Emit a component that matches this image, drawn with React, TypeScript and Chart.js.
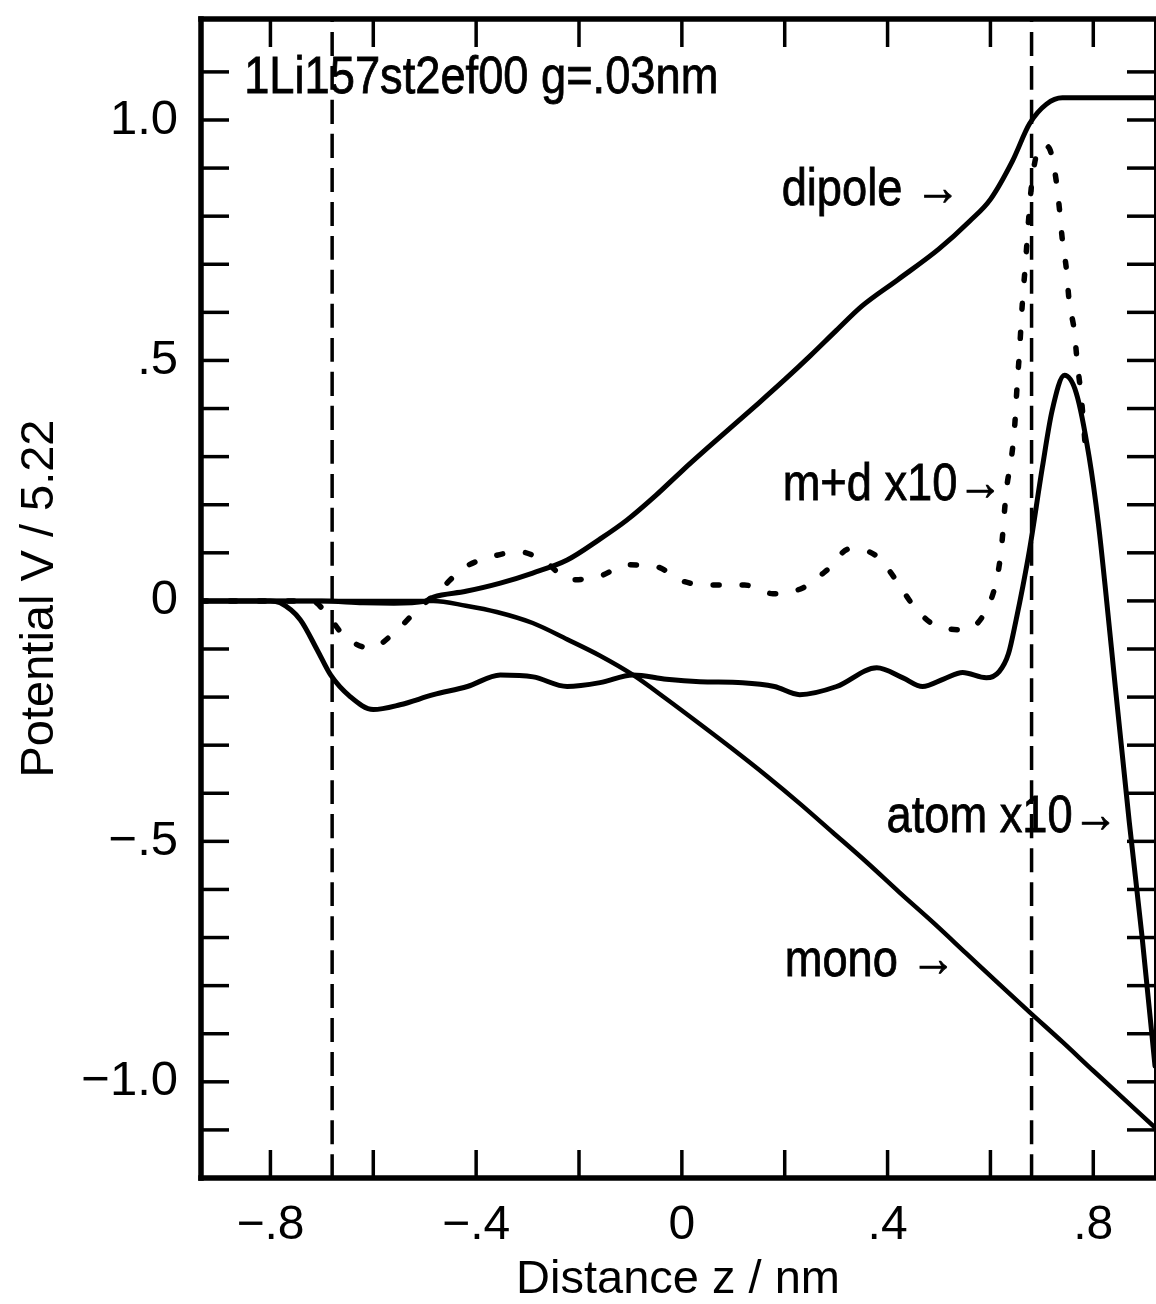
import React, { useEffect, useRef } from 'react';
import { Chart, registerables } from 'chart.js';

Chart.register(...registerables);

const FONT = '"Liberation Sans", Arial, Helvetica, sans-serif';

// ---- data (z in nm, V / 5.22) ----
const DIPOLE_Z = [-0.935, -0.7, -0.62, -0.56, -0.5, -0.483, -0.42, -0.353, -0.29, -0.223, -0.16, -0.107, -0.05, 0, 0.05, 0.1, 0.15, 0.2, 0.25, 0.3, 0.35, 0.42, 0.5, 0.56, 0.6, 0.643, 0.676, 0.709, 0.74, 0.77, 0.92];
const DIPOLE_V = [0, 0, -0.004, -0.005, -0.001, 0.008, 0.02, 0.037, 0.058, 0.085, 0.128, 0.168, 0.22, 0.27, 0.318, 0.365, 0.412, 0.46, 0.51, 0.562, 0.613, 0.668, 0.732, 0.79, 0.835, 0.915, 0.992, 1.033, 1.046, 1.046, 1.046];

const MONO_Z = [-0.935, -0.5, -0.483, -0.42, -0.36, -0.29, -0.223, -0.159, -0.095, -0.03, 0.035, 0.1, 0.165, 0.23, 0.293, 0.36, 0.423, 0.49, 0.553, 0.615, 0.676, 0.74, 0.8, 0.86, 0.92];
const MONO_V = [0, 0, 0, -0.01, -0.023, -0.046, -0.08, -0.114, -0.154, -0.204, -0.256, -0.309, -0.364, -0.422, -0.481, -0.544, -0.606, -0.67, -0.733, -0.795, -0.855, -0.917, -0.977, -1.036, -1.095];

const ATOM_Z = [-0.935, -0.8, -0.781, -0.742, -0.709, -0.683, -0.645, -0.6, -0.548, -0.483, -0.417, -0.353, -0.289, -0.223, -0.159, -0.095, -0.03, 0.035, 0.118, 0.18, 0.229, 0.301, 0.379, 0.43, 0.468, 0.51, 0.546, 0.592, 0.617, 0.635, 0.65, 0.663, 0.676, 0.701, 0.72, 0.744, 0.767, 0.792, 0.81, 0.826, 0.842, 0.87, 0.895, 0.92];
const ATOM_V = [0, 0, -0.004, -0.039, -0.102, -0.154, -0.199, -0.226, -0.216, -0.195, -0.178, -0.154, -0.158, -0.178, -0.17, -0.154, -0.163, -0.168, -0.17, -0.178, -0.195, -0.178, -0.139, -0.16, -0.178, -0.162, -0.149, -0.16, -0.147, -0.11, -0.039, 0.03, 0.106, 0.278, 0.396, 0.469, 0.432, 0.299, 0.16, 0.0, -0.17, -0.46, -0.7, -0.967];

const MD_Z = [-0.935, -0.72, -0.693, -0.658, -0.606, -0.557, -0.515, -0.47, -0.425, -0.373, -0.315, -0.266, -0.217, -0.163, -0.105, -0.049, 0.002, 0.06, 0.122, 0.177, 0.235, 0.282, 0.326, 0.379, 0.416, 0.449, 0.491, 0.55, 0.592, 0.612, 0.621, 0.631, 0.641, 0.647, 0.652, 0.656, 0.662, 0.668, 0.674, 0.68, 0.69, 0.703, 0.715, 0.728, 0.734, 0.74, 0.748, 0.753, 0.763, 0.769, 0.777, 0.786];
const MD_V = [0, 0, -0.023, -0.071, -0.098, -0.064, -0.019, 0.023, 0.068, 0.091, 0.102, 0.081, 0.044, 0.05, 0.075, 0.071, 0.041, 0.033, 0.033, 0.015, 0.027, 0.064, 0.108, 0.093, 0.044, -0.008, -0.05, -0.06, -0.019, 0.044, 0.106, 0.23, 0.299, 0.361, 0.45, 0.51, 0.618, 0.7, 0.79, 0.865, 0.93, 0.948, 0.94, 0.873, 0.817, 0.749, 0.687, 0.624, 0.562, 0.494, 0.42, 0.299];

const BOUNDARY_Z = [-0.68, 0.68];
const BOUNDARY_V = [-1.2, 1.21];

// ---- axes ----
const X_MIN = -0.935;
const X_MAX = 0.92;
const Y_MIN = -1.2;
const Y_MAX = 1.21;
const X_TICK_VALUES = [-0.8, -0.6, -0.4, -0.2, 0, 0.2, 0.4, 0.6, 0.8];
const X_LABEL_VALUES = [-0.8, -0.4, 0, 0.4, 0.8];
const X_LABEL_TEXT = ['\u2212.8', '\u2212.4', '0', '.4', '.8'];
const Y_TICK_VALUES = [-1.1, -1.0, -0.9, -0.8, -0.7, -0.6, -0.5, -0.4, -0.3, -0.2, -0.1, 0, 0.1, 0.2, 0.3, 0.4, 0.5, 0.6, 0.7, 0.8, 0.9, 1.0, 1.1];
const Y_LABEL_VALUES = [-1, -0.5, 0, 0.5, 1];
const Y_LABEL_TEXT = ['\u22121.0', '\u2212.5', '0', '.5', '1.0'];
const X_TITLE = 'Distance z / nm';
const Y_TITLE = 'Potential V / 5.22';

// ---- annotations ----
const NOTE_TEXT = ['1Li157st2ef00 g=.03nm', 'dipole \u2192', 'm+d x10\u2192', 'atom x10\u2192', 'mono \u2192'];
const NOTE_Z = [-0.851, 0.194, 0.196, 0.398, 0.2];
const NOTE_V = [1.056, 0.824, 0.21, -0.481, -0.78];

const pts = (xs: number[], ys: number[]) => xs.map((x, i) => ({ x, y: ys[i] }));
const labelFor = (vals: number[], texts: string[], v: number) => {
  const i = vals.findIndex((u) => Math.abs(u - v) < 1e-6);
  return i >= 0 ? texts[i] : '';
};

const framePlugin = {
  id: 'framePlugin',
  afterDatasetsDraw(chart: any) {
    const { ctx, chartArea: a, scales } = chart;
    const TL = 28;
    ctx.save();
    ctx.strokeStyle = '#000';
    ctx.lineCap = 'butt';
    ctx.lineWidth = 3.5;
    const seg = (x1: number, y1: number, x2: number, y2: number) => {
      ctx.beginPath();
      ctx.moveTo(x1, y1);
      ctx.lineTo(x2, y2);
      ctx.stroke();
    };
    X_TICK_VALUES.forEach((v) => {
      const px = scales.x.getPixelForValue(v);
      seg(px, a.bottom, px, a.bottom - TL);
      seg(px, a.top, px, a.top + TL);
    });
    Y_TICK_VALUES.forEach((v) => {
      const py = scales.y.getPixelForValue(v);
      seg(a.left, py, a.left + TL, py);
      seg(a.right, py, a.right - TL, py);
    });
    ctx.lineCap = 'square';
    ctx.lineWidth = 5.5;
    seg(a.left, a.top, a.left, a.bottom);
    seg(a.left, a.bottom, a.right, a.bottom);
    seg(a.left, a.top, a.right, a.top);
    ctx.lineWidth = 2;
    seg(a.right, a.top, a.right, a.bottom);

    ctx.fillStyle = '#000';
    ctx.strokeStyle = '#000';
    ctx.lineWidth = 0.8;
    ctx.font = '52px ' + FONT;
    ctx.textAlign = 'left';
    ctx.textBaseline = 'alphabetic';
    NOTE_TEXT.forEach((t, i) => {
      const px = scales.x.getPixelForValue(NOTE_Z[i]);
      const py = scales.y.getPixelForValue(NOTE_V[i]);
      ctx.save();
      ctx.translate(px, py);
      ctx.scale(0.87, 1);
      ctx.fillText(t, 0, 0);
      ctx.strokeText(t, 0, 0);
      ctx.restore();
    });
    ctx.restore();
  },
};

export default function App() {
  const ref = useRef<HTMLCanvasElement | null>(null);

  useEffect(() => {
    if (!ref.current) return;
    const solid = (data: any, w: number) => ({
      data,
      borderColor: '#000',
      borderWidth: w,
      pointRadius: 0,
      fill: false,
      cubicInterpolationMode: 'monotone',
      borderCapStyle: 'round',
      borderJoinStyle: 'round',
    });
    const chart = new Chart(ref.current, {
      type: 'line',
      data: {
        datasets: [
          { ...solid(pts([BOUNDARY_Z[0], BOUNDARY_Z[0]], BOUNDARY_V), 3.5), borderDash: [24, 10], borderCapStyle: 'butt', label: 'boundary L' },
          { ...solid(pts([BOUNDARY_Z[1], BOUNDARY_Z[1]], BOUNDARY_V), 3.5), borderDash: [24, 10], borderCapStyle: 'butt', label: 'boundary R' },
          { ...solid(pts(MD_Z, MD_V), 5.5), borderDash: [6, 23], label: 'm+d x10' },
          { ...solid(pts(MONO_Z, MONO_V), 4.5), label: 'mono' },
          { ...solid(pts(DIPOLE_Z, DIPOLE_V), 5), label: 'dipole' },
          { ...solid(pts(ATOM_Z, ATOM_V), 5), label: 'atom x10' },
        ] as any,
      },
      options: {
        responsive: false,
        animation: false,
        parsing: false as any,
        layout: { padding: { top: 19, right: 1, left: 0, bottom: 0 } },
        plugins: { legend: { display: false }, tooltip: { enabled: false } },
        scales: {
          x: {
            type: 'linear',
            min: X_MIN,
            max: X_MAX,
            afterBuildTicks: (s: any) => {
              s.ticks = X_TICK_VALUES.map((value) => ({ value }));
            },
            afterFit: (s: any) => {
              s.height = 126;
              s.paddingLeft = 0;
              s.paddingRight = 0;
            },
            grid: { display: false, drawTicks: false },
            border: { display: false },
            ticks: {
              autoSkip: false,
              maxRotation: 0,
              color: '#000',
              padding: 24,
              font: { family: FONT, size: 48, lineHeight: 1 },
              callback: (v: any) => labelFor(X_LABEL_VALUES, X_LABEL_TEXT, Number(v)),
            },
            title: {
              display: true,
              text: X_TITLE,
              color: '#000',
              font: { family: FONT, size: 47, lineHeight: 1 },
              padding: { top: 0, bottom: 0 },
            },
          },
          y: {
            type: 'linear',
            min: Y_MIN,
            max: Y_MAX,
            afterBuildTicks: (s: any) => {
              s.ticks = Y_TICK_VALUES.map((value) => ({ value }));
            },
            afterFit: (s: any) => {
              s.width = 201;
              s.paddingTop = 0;
              s.paddingBottom = 0;
            },
            grid: { display: false, drawTicks: false },
            border: { display: false },
            ticks: {
              autoSkip: false,
              color: '#000',
              padding: 23,
              font: { family: FONT, size: 49, lineHeight: 1 },
              callback: (v: any) => labelFor(Y_LABEL_VALUES, Y_LABEL_TEXT, Number(v)),
            },
            title: {
              display: true,
              text: Y_TITLE,
              color: '#000',
              font: { family: FONT, size: 47, lineHeight: 1 },
              padding: { top: 17, bottom: 0 },
            },
          },
        },
      } as any,
      plugins: [framePlugin],
    });
    return () => chart.destroy();
  }, []);

  return (
    <div style={{ position: 'absolute', left: 0, top: 0, width: 1156, height: 1304, background: '#fff' }}>
      <canvas ref={ref} width={1156} height={1304} />
    </div>
  );
}
